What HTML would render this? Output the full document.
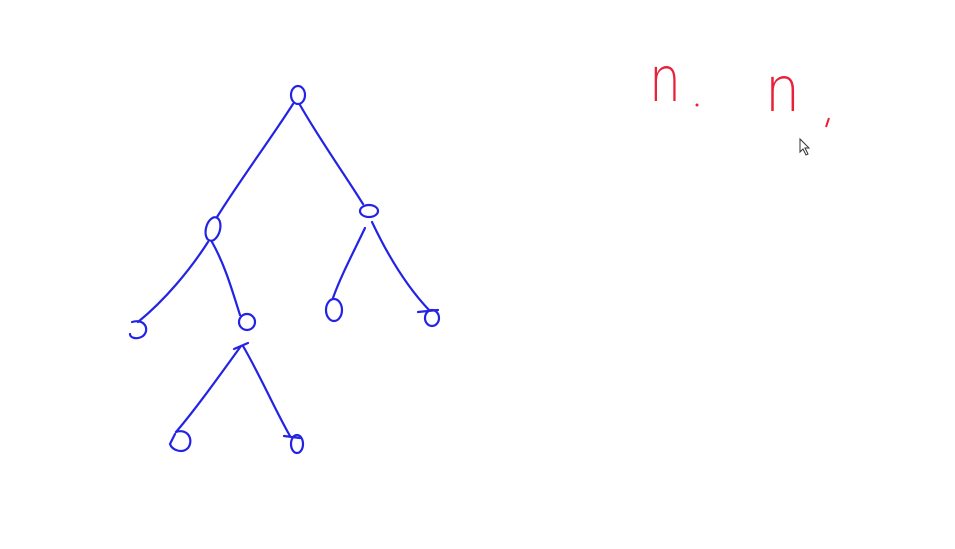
<!DOCTYPE html>
<html>
<head>
<meta charset="utf-8">
<style>
html,body{margin:0;padding:0;background:#fff;}
svg{display:block;}
</style>
</head>
<body>
<svg width="955" height="549" viewBox="0 0 955 549">
  <rect width="955" height="549" fill="#ffffff"/>
  <g fill="none" stroke="#2323e6" stroke-width="2.2" stroke-linecap="round">
    <path d="M293,104 C270,140 240,180 217,217"/>
    <path d="M300,105 C320,140 345,175 363,204"/>
    <path d="M208,242 C190,270 165,300 138,322"/>
    <path d="M212,242 C225,265 232,290 240,315"/>
    <path d="M365,228 C352,255 340,278 333,298"/>
    <path d="M372,222 C390,260 410,290 429,310"/>
    <path d="M241,346 C220,375 195,410 176,432"/>
    <path d="M243,346 C260,375 275,410 290,436"/>
    <path d="M234,349 L248,343"/>

    <ellipse cx="298" cy="95" rx="7" ry="9"/>
    <ellipse cx="213" cy="229" rx="7" ry="12" transform="rotate(15 213 229)"/>
    <ellipse cx="369" cy="211" rx="9" ry="6"/>
    <path d="M132,322 C145,318 150,330 143,336 C137,340 130,338 130,334"/>
    <ellipse cx="247" cy="322" rx="8" ry="8"/>
    <ellipse cx="334" cy="310" rx="8" ry="11"/>
    <ellipse cx="432" cy="318" rx="7" ry="8"/>
    <path d="M418,312 L438,310"/>
    <path d="M176,432 C188,428 194,440 188,448 C182,454 172,450 170,444 L175,434"/>
    <ellipse cx="297" cy="444" rx="6" ry="9"/>
    <path d="M284,436 L300,438"/>
  </g>
  <g fill="#e8203a" font-family="'DejaVu Sans', 'Liberation Sans', sans-serif" font-weight="200">
    <text x="649" y="101" font-size="62" textLength="32" lengthAdjust="spacingAndGlyphs">n</text>
    <circle cx="697" cy="105" r="1.5"/>
    <text x="765" y="111" font-size="62" textLength="35" lengthAdjust="spacingAndGlyphs">n</text>
    <path d="M829,118 L826,127" stroke="#e8203a" stroke-width="2" fill="none"/>
  </g>
  <path d="M800,139 L800,152 L803,149 L806,155 L808,154 L805,148 L809,148 Z" fill="#fff" stroke="#333" stroke-width="1"/>
</svg>
</body>
</html>
